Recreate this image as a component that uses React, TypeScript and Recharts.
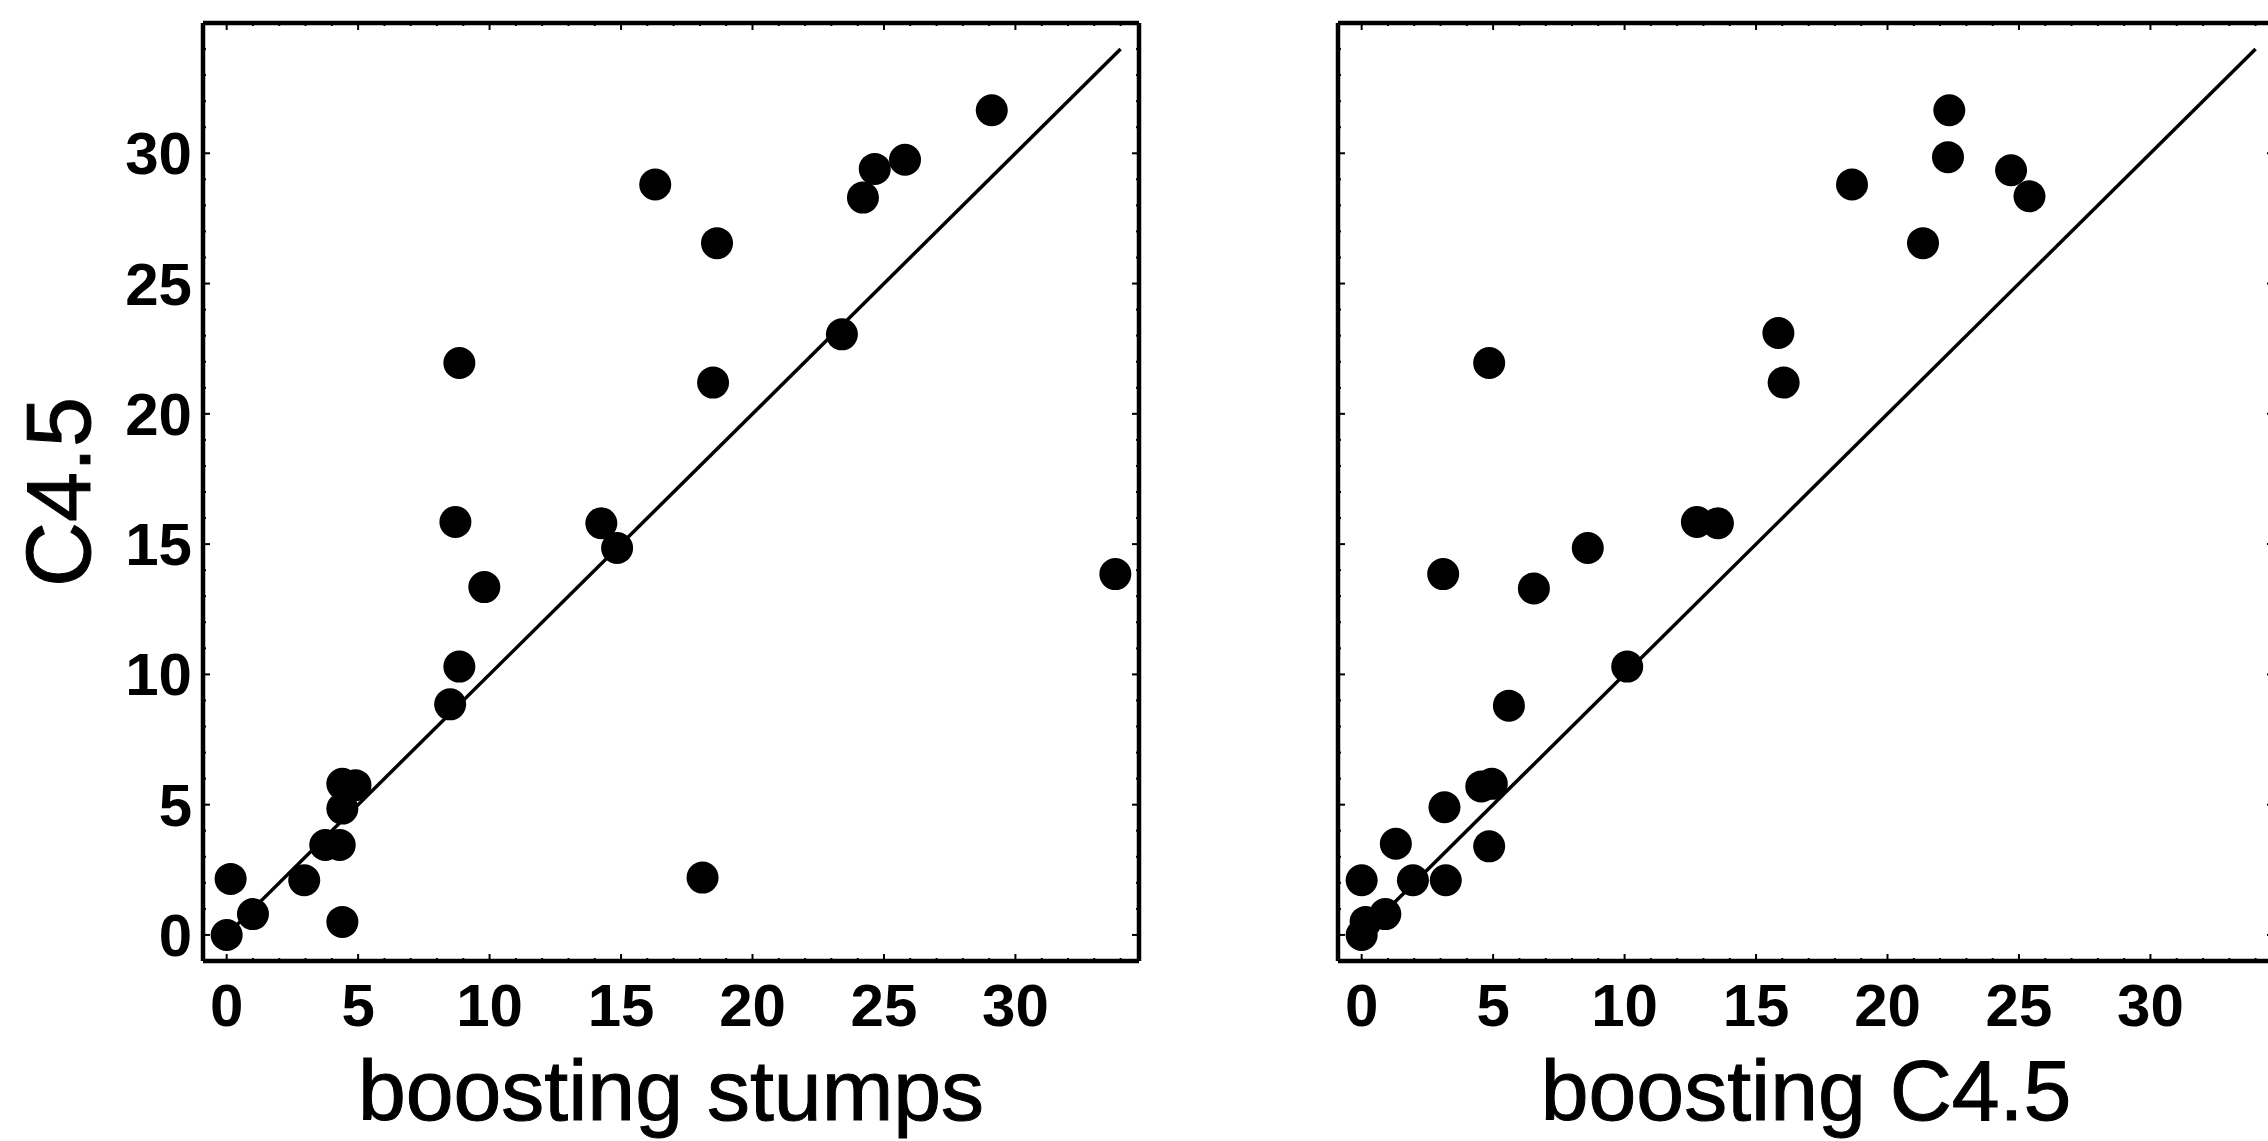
import React from "react";
import { ScatterChart, Scatter, XAxis, YAxis, ReferenceLine } from "recharts";

// left panel: C4.5 error vs boosting stumps error (%)
const stumpsX = [0, 0.15, 1.0, 2.95, 3.75, 4.3, 4.4, 4.4, 4.9, 4.4, 8.5, 8.85, 8.7, 8.85, 9.8, 14.25, 14.85, 16.3, 18.1, 18.5, 18.65, 23.4, 24.2, 24.65, 25.8, 29.1, 33.8];
const stumpsY = [0, 2.15, 0.8, 2.1, 3.45, 3.45, 0.5, 5.8, 5.75, 4.85, 8.85, 10.3, 15.85, 21.95, 13.35, 15.8, 14.85, 28.8, 2.2, 21.2, 26.55, 23.05, 28.3, 29.4, 29.75, 31.65, 13.85];

// right panel: C4.5 error vs boosting C4.5 error (%)
const boostC45X = [0, 0.15, 0.9, 0, 1.3, 1.95, 3.2, 3.15, 4.85, 4.55, 4.95, 5.6, 3.1, 6.55, 8.6, 4.85, 10.1, 12.75, 13.55, 15.85, 16.05, 18.65, 21.35, 22.35, 22.3, 24.7, 25.4];
const boostC45Y = [0, 0.5, 0.8, 2.1, 3.5, 2.1, 2.1, 4.9, 3.4, 5.7, 5.8, 8.8, 13.85, 13.3, 14.85, 21.95, 10.3, 15.85, 15.8, 23.1, 21.2, 28.8, 26.55, 31.65, 29.85, 29.35, 28.35];

const tickLabels = [0, 5, 10, 15, 20, 25, 30];
const minorTicks = Array.from({ length: 35 }, (_, i) => i);
const xDomain = [-0.9, 34.7];
const yDomain = [-1, 35];
const diagonal = [0, 34];

const FONT = '"Liberation Sans", Arial, Helvetica, sans-serif';

const toPoints = (xs: number[], ys: number[]) => xs.map((x, i) => ({ x, y: ys[i] }));

const isMajor = (v: number) => tickLabels.includes(v);

function Dot(props: any) {
  return <circle cx={props.cx} cy={props.cy} r={16} fill="#000" />;
}

function BottomTick(props: any) {
  const { x, y, payload } = props;
  const v = payload.value;
  return (
    <g>
      <line x1={x} x2={x} y1={y} y2={y - (isMajor(v) ? 7 : 3)} stroke="#000" strokeWidth={2} />
      {isMajor(v) && (
        <text x={x} y={y + 65} textAnchor="middle" fontFamily={FONT} fontWeight="bold" fontSize={60} fill="#000">
          {v}
        </text>
      )}
    </g>
  );
}

function TopTick(props: any) {
  const { x, y, payload } = props;
  return <line x1={x} x2={x} y1={y} y2={y + (isMajor(payload.value) ? 7 : 3)} stroke="#000" strokeWidth={2} />;
}

function LeftTick(props: any) {
  const { x, y, payload, showLabel } = props;
  const v = payload.value;
  return (
    <g>
      <line x1={x} x2={x + (isMajor(v) ? 7 : 3)} y1={y} y2={y} stroke="#000" strokeWidth={2} />
      {showLabel && isMajor(v) && (
        <text x={x - 11} y={y + 21} textAnchor="end" fontFamily={FONT} fontWeight="bold" fontSize={60} fill="#000">
          {v}
        </text>
      )}
    </g>
  );
}

function RightTick(props: any) {
  const { x, y, payload } = props;
  return <line x1={x} x2={x - (isMajor(payload.value) ? 7 : 3)} y1={y} y2={y} stroke="#000" strokeWidth={2} />;
}

function Panel({ points, xLabel, showYLabel }: { points: { x: number; y: number }[]; xLabel: string; showYLabel: boolean }) {
  const frame = { stroke: "#000", strokeWidth: 4.5 };
  return (
    <ScatterChart width={1160} height={1141} margin={{ top: 22, right: 20, bottom: 0, left: 0 }}>
      <XAxis
        type="number"
        dataKey="x"
        domain={xDomain}
        allowDataOverflow
        ticks={minorTicks}
        interval={0}
        tickSize={0}
        tickMargin={0}
        height={180}
        axisLine={frame}
        tick={(p: any) => <BottomTick {...p} />}
        label={(p: any) => {
          const vb = p.viewBox || { x: 203, y: 961, width: 936 };
          return (
            <text x={vb.x + vb.width / 2} y={vb.y + 159} textAnchor="middle" fontFamily={FONT} fontSize={86} fill="#000" stroke="#000" strokeWidth={1}>
              {xLabel}
            </text>
          );
        }}
      />
      {/* top and right frame edges with small inward ticks */}
      <XAxis
        xAxisId="top"
        orientation="top"
        type="number"
        dataKey="x"
        domain={xDomain}
        allowDataOverflow
        ticks={minorTicks}
        interval={0}
        tickSize={0}
        tickMargin={0}
        height={1}
        axisLine={false}
        tick={(p: any) => <TopTick {...p} />}
      />
      <YAxis
        type="number"
        dataKey="y"
        domain={yDomain}
        allowDataOverflow
        ticks={minorTicks}
        interval={0}
        tickSize={0}
        tickMargin={0}
        width={203}
        axisLine={frame}
        tick={(p: any) => <LeftTick {...p} showLabel={showYLabel} />}
        label={(p: any) => {
          if (!showYLabel) return null;
          const vb = p.viewBox || { x: 0, y: 23, height: 938 };
          const cx = vb.x + 90;
          const cy = vb.y + vb.height / 2;
          return (
            <text x={cx} y={cy} transform={`rotate(-90 ${cx} ${cy})`} textAnchor="middle" fontFamily={FONT} fontSize={90} fill="#000" stroke="#000" strokeWidth={1}>
              C4.5
            </text>
          );
        }}
      />
      <YAxis
        yAxisId="right"
        orientation="right"
        type="number"
        dataKey="y"
        domain={yDomain}
        allowDataOverflow
        ticks={minorTicks}
        interval={0}
        tickSize={0}
        tickMargin={0}
        width={1}
        axisLine={false}
        tick={(p: any) => <RightTick {...p} />}
      />
      <ReferenceLine
        segment={[
          { x: diagonal[0], y: diagonal[0] },
          { x: diagonal[1], y: diagonal[1] },
        ]}
        stroke="#000"
        strokeWidth={3.5}
      />
      {/* frame: top and right edges */}
      <ReferenceLine y={yDomain[1]} stroke="#000" strokeWidth={4.5} ifOverflow="visible" />
      <ReferenceLine x={xDomain[1]} stroke="#000" strokeWidth={4.5} ifOverflow="visible" />
      <Scatter data={points} xAxisId="top" yAxisId="right" shape={() => <g />} isAnimationActive={false} />
      <Scatter data={points} shape={(p: any) => <Dot {...p} />} isAnimationActive={false} />
    </ScatterChart>
  );
}

export default function App() {
  return (
    <div
      style={{
        position: "absolute",
        left: 0,
        top: 0,
        width: 2268,
        height: 1141,
        overflow: "hidden",
        background: "#fff",
      }}
    >
      <div style={{ position: "absolute", left: 0, top: 0 }}>
        <Panel points={toPoints(stumpsX, stumpsY)} xLabel="boosting stumps" showYLabel />
      </div>
      <div style={{ position: "absolute", left: 1135, top: 0 }}>
        <Panel points={toPoints(boostC45X, boostC45Y)} xLabel="boosting C4.5" showYLabel={false} />
      </div>
    </div>
  );
}
